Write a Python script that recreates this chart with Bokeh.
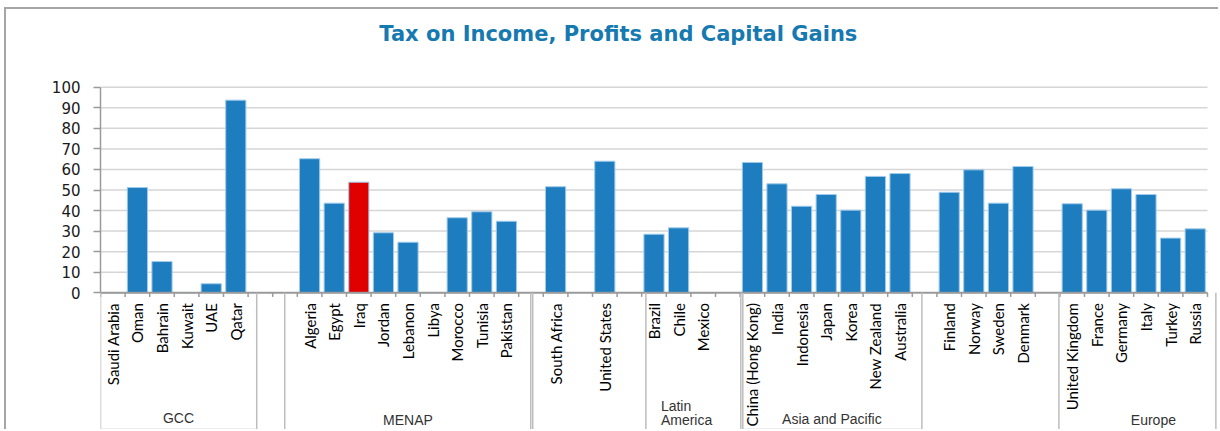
import numpy as np
from bokeh.plotting import figure
from bokeh.models import Range1d, FixedTicker, ColumnDataSource
from bokeh.core.properties import value
from bokeh.embed import file_html
from bokeh.resources import INLINE

title_text = "Tax on Income, Profits and Capital Gains"

# axis order; "" marks an empty slot between groups
categories = ["Saudi Arabia", "Oman", "Bahrain", "Kuwait", "UAE", "Qatar", "", "",
              "Algeria", "Egypt", "Iraq", "Jordan", "Lebanon", "Libya", "Morocco", "Tunisia", "Pakistan", "",
              "South Africa", "", "United States", "",
              "Brazil", "Chile", "Mexico", "",
              "China (Hong Kong)", "India", "Indonesia", "Japan", "Korea", "New Zealand", "Australia", "",
              "Finland", "Norway", "Sweden", "Denmark", "",
              "United Kingdom", "France", "Germany", "Italy", "Turkey", "Russia"]

values = [0, 51.2, 15.2, 0, 4.4, 93.7,
          65.2, 43.6, 53.8, 29.2, 24.6, 0, 36.5, 39.4, 34.8,
          51.6, 64.0,
          28.5, 31.6, 0,
          63.4, 53.0, 42.1, 47.8, 40.2, 56.6, 58.0,
          48.9, 59.8, 43.6, 61.4,
          43.3, 40.2, 50.6, 47.8, 26.6, 31.1]

highlight = "Iraq"
y_ticks = [0, 10, 20, 30, 40, 50, 60, 70, 80, 90, 100]
group_labels = ["GCC", "MENAP", "Latin", "America", "Asia and Pacific", "Europe"]

# ---- layout / style constants ----
BLUE = "#1E7DBF"
RED = "#E00000"
PX_PER_SLOT = 24.6
PX_PER_UNIT = 2.056
OX, OY = 6, 9                 # canvas origin on the page (margin + border)
W, H = 1220 - OX, 431 - OY
LEFT = 94                     # frame starts at page x = 100
ZERO_Y = 292.3 - OY           # canvas y of value 0

n_slots = len(categories)
x_start = -0.5
x_end = x_start + (W - LEFT) / PX_PER_SLOT
y_start = -(H - ZERO_Y) / PX_PER_UNIT
y_end = y_start + H / PX_PER_UNIT

p = figure(width=W, height=H, output_backend="svg", toolbar_location=None,
           x_range=Range1d(x_start, x_end), y_range=Range1d(y_start, y_end),
           x_axis_location=None, min_border_left=LEFT, min_border_right=0,
           min_border_top=0, min_border_bottom=0)
p.styles = {"border-left": "2px solid #a6a6a6", "border-top": "2px solid #a6a6a6",
            "margin-left": "4px", "margin-top": "7px"}
p.outline_line_color = None
p.xgrid.visible = False
p.ygrid.visible = False
p.background_fill_color = "white"
p.border_fill_color = "white"

yax = p.yaxis[0]
yax.ticker = FixedTicker(ticks=y_ticks)
yax.bounds = (y_ticks[0], y_ticks[-1])
yax.axis_line_color = "#9a9a9a"
yax.axis_line_width = 1.5
yax.major_tick_line_color = "#9a9a9a"
yax.major_tick_line_width = 1.5
yax.major_tick_in = 0
yax.major_tick_out = 7
yax.minor_tick_line_color = None
yax.major_label_standoff = 13
yax.major_label_text_font = "DejaVu Sans"
yax.major_label_text_font_size = "15px"
yax.major_label_text_color = "#1a1a1a"

lo, hi = -0.5, n_slots - 0.5

# gridlines
p.segment(x0=lo, x1=hi, y0=y_ticks[1:], y1=y_ticks[1:], line_color="#d6d6d6", line_width=1.5)

# bars
xs = [i for i, c in enumerate(categories) if c]
names = [c for c in categories if c]
colors = [RED if n == highlight else BLUE for n in names]
src = ColumnDataSource(dict(x=xs, top=values, name=names, color=colors))
p.vbar(x="x", top="top", bottom=0, width=0.82, fill_color="color",
       line_color="#9fcbeb", line_width=1, source=src)

# category axis line and ticks
p.segment(x0=lo, x1=hi, y0=0, y1=0, line_color="#9a9a9a", line_width=2)
bounds = list(np.arange(n_slots + 1) - 0.5)
p.segment(x0=bounds, x1=bounds, y0=0, y1=-2.0, line_color="#9a9a9a", line_width=1.5)

# category labels
p.text(x="x", y=-5.0, text="name", angle=np.pi / 2, text_align="right", text_baseline="middle",
       text_font=value("Lato"), text_font_size="15px", text_color="#000000", source=src)

# group boxes
edges = [-0.5, 5.85, 6.99, 16.99, 17.07, 21.67, 25.53, 25.61, 32.89, 38.46, 44.84]
p.segment(x0=edges, x1=edges, y0=0, y1=y_start, line_color="#bdbdbd", line_width=1.5)
box_bottom = -66.5
p.segment(x0=[-0.5, 25.61], x1=[5.85, 32.89], y0=box_bottom, y1=box_bottom,
          line_color="#bdbdbd", line_width=1.5)

# group labels
gl_x = [2.67, 12.0, 22.28, 22.28, 29.23, 42.3]
gl_y = [-61.0, -62.0, -55.3, -62.1, -61.6, -62.0]
gl_align = ["center", "center", "left", "left", "center", "center"]
p.text(x=gl_x, y=gl_y, text=group_labels, text_align=gl_align, text_baseline="middle",
       text_font=value("Liberation Sans"), text_font_size="14px", text_color="#333333")

# title
p.text(x=[20.55], y=[126.0], text=[title_text], text_align="center", text_baseline="middle",
       text_font=value("DejaVu Sans"), text_font_style="bold", text_font_size="21px",
       text_color="#1679B0")

open("out.html", "w").write(file_html(p, INLINE))
